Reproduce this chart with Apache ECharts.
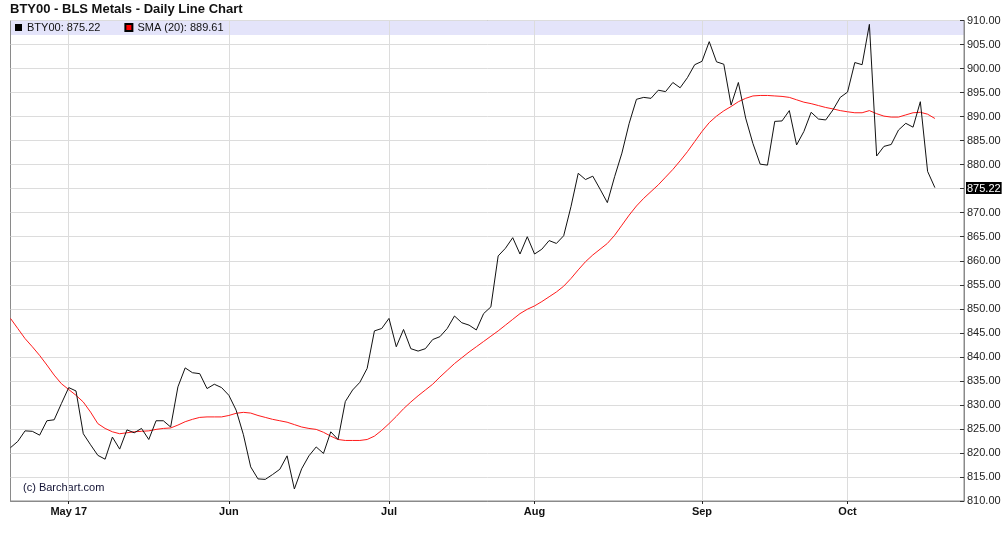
<!DOCTYPE html>
<html>
<head>
<meta charset="utf-8">
<script src="https://cdn.jsdelivr.net/npm/echarts@6/dist/echarts.min.js"></script>
<style>
html,body{margin:0;padding:0;background:#fff;}
#chart{width:1006px;height:542px;}
</style>
</head>
<body>
<div id="chart"></div>
<script>
// Trading dates (last 4 are empty room at the right edge of the axis)
const dates = [
"2017-04-19","2017-04-20","2017-04-21","2017-04-24","2017-04-25","2017-04-26","2017-04-27","2017-04-28",
"2017-05-01","2017-05-02","2017-05-03","2017-05-04","2017-05-05","2017-05-08","2017-05-09","2017-05-10","2017-05-11","2017-05-12",
"2017-05-15","2017-05-16","2017-05-17","2017-05-18","2017-05-19","2017-05-22","2017-05-23","2017-05-24","2017-05-25","2017-05-26","2017-05-30","2017-05-31",
"2017-06-01","2017-06-02","2017-06-05","2017-06-06","2017-06-07","2017-06-08","2017-06-09","2017-06-12","2017-06-13","2017-06-14","2017-06-15","2017-06-16",
"2017-06-19","2017-06-20","2017-06-21","2017-06-22","2017-06-23","2017-06-26","2017-06-27","2017-06-28","2017-06-29","2017-06-30",
"2017-07-03","2017-07-05","2017-07-06","2017-07-07","2017-07-10","2017-07-11","2017-07-12","2017-07-13","2017-07-14",
"2017-07-17","2017-07-18","2017-07-19","2017-07-20","2017-07-21","2017-07-24","2017-07-25","2017-07-26","2017-07-27","2017-07-28","2017-07-31",
"2017-08-01","2017-08-02","2017-08-03","2017-08-04","2017-08-07","2017-08-08","2017-08-09","2017-08-10","2017-08-11",
"2017-08-14","2017-08-15","2017-08-16","2017-08-17","2017-08-18","2017-08-21","2017-08-22","2017-08-23","2017-08-24","2017-08-25",
"2017-08-28","2017-08-29","2017-08-30","2017-08-31",
"2017-09-01","2017-09-05","2017-09-06","2017-09-07","2017-09-08","2017-09-11","2017-09-12","2017-09-13","2017-09-14","2017-09-15",
"2017-09-18","2017-09-19","2017-09-20","2017-09-21","2017-09-22","2017-09-25","2017-09-26","2017-09-27","2017-09-28","2017-09-29",
"2017-10-02","2017-10-03","2017-10-04","2017-10-05","2017-10-06","2017-10-09","2017-10-10","2017-10-11","2017-10-12","2017-10-13",
"2017-10-16","2017-10-17","2017-10-18",
"2017-10-19","2017-10-20","2017-10-23","2017-10-24"
];

const monthTickLabels = {
  "2017-05-01": "May 17",
  "2017-06-01": "Jun",
  "2017-07-03": "Jul",
  "2017-08-01": "Aug",
  "2017-09-01": "Sep",
  "2017-10-02": "Oct"
};

const btyValues = [
821.1,822.4,824.6,824.5,823.7,826.7,826.9,830.3,833.6,832.9,
824.0,821.7,819.5,818.7,823.3,820.8,824.8,824.2,825.1,822.8,
826.7,826.7,825.4,833.75,837.7,836.7,836.5,833.4,834.3,833.6,
832.0,828.9,823.8,817.1,814.6,814.5,815.5,816.6,819.4,812.5,
816.7,819.4,821.25,819.9,824.4,822.8,830.7,833.1,834.7,837.6,
845.4,845.9,848.0,842.1,845.7,841.7,841.2,841.7,843.6,844.2,
845.9,848.5,847.1,846.6,845.6,849.0,850.4,861.0,862.6,864.8,
861.4,865.0,861.4,862.4,864.2,863.6,865.2,871.25,878.2,876.9,
877.6,874.9,872.1,877.5,882.4,888.6,893.6,894.0,893.8,895.5,
895.2,897.1,896.0,898.1,900.8,901.5,905.6,901.4,900.9,892.4,
897.1,889.7,884.4,880.1,879.9,889.0,889.1,891.25,884.1,886.9,
890.9,889.5,889.3,891.4,894.0,895.1,901.25,900.8,909.2,881.8,
883.8,884.2,887.2,888.6,887.8,893.1,878.6,875.22
];

const smaValues = [
848.0,845.9,843.8,842.1,840.3,838.3,836.2,834.4,833.2,832.0,
830.6,828.5,826.1,825.1,824.4,824.0,824.2,824.4,824.5,824.6,
824.9,825.1,825.2,825.8,826.5,827.0,827.4,827.5,827.5,827.5,
827.8,828.25,828.45,828.3,827.8,827.4,827.0,826.7,826.4,825.9,
825.4,825.1,824.9,824.3,823.5,822.8,822.6,822.6,822.6,822.8,
823.5,824.7,826.1,827.6,829.2,830.6,831.9,833.1,834.3,835.8,
837.2,838.6,839.8,841.0,842.1,843.2,844.3,845.4,846.6,847.8,
849.0,849.9,850.6,851.5,852.5,853.5,854.7,856.3,858.1,859.8,
861.2,862.4,863.6,865.3,867.4,869.5,871.4,873.0,874.4,875.8,
877.4,879.0,880.8,882.7,884.8,886.9,888.75,890.1,891.2,892.1,
893.1,893.8,894.3,894.4,894.4,894.3,894.2,894.0,893.5,893.0,
892.7,892.3,891.9,891.6,891.25,891.0,890.8,890.8,891.25,890.6,
890.1,889.9,889.9,890.35,890.8,890.9,890.5,889.61
];

const lastBty = btyValues[btyValues.length - 1];
const lastSma = smaValues[smaValues.length - 1];
const FONT = '"Liberation Sans", Arial, sans-serif';

const isMonthTick = (idx, val) => monthTickLabels[val] !== undefined;

const chart = echarts.init(document.getElementById('chart'), null, {renderer: 'canvas'});
chart.setOption({
  animation: false,
  backgroundColor: '#ffffff',
  title: {
    text: 'BTY00 - BLS Metals - Daily Line Chart',
    left: 8, top: 1,
    padding: [2, 2],
    textStyle: {fontFamily: FONT, fontSize: 13, fontWeight: 'bold', color: '#111'}
  },
  legend: {
    left: 13, top: 21,
    padding: [1, 2],
    itemWidth: 7, itemHeight: 7, itemGap: 24,
    icon: 'rect',
    textStyle: {fontFamily: FONT, fontSize: 11, color: '#111'},
    formatter: name => name === 'BTY00' ? 'BTY00: ' + lastBty.toFixed(2) : 'SMA (20): ' + lastSma.toFixed(2),
    data: ['BTY00', 'SMA (20)']
  },
  graphic: [
    {id: 'band', type: 'rect', z: -1, shape: {x: 11, y: 21, width: 953, height: 14}, style: {fill: '#e4e4fa'}},
    {id: 'copy', type: 'text', left: 23, top: 482, style: {text: '(c) Barchart.com', font: '11px ' + FONT, fill: '#111133'}}
  ],
  grid: {
    left: 10.5, right: 42, top: 20.5, bottom: 41,
    show: true, borderColor: '#8a8a8a', borderWidth: 1
  },
  xAxis: {
    type: 'category',
    data: dates,
    boundaryGap: false,
    axisLine: {lineStyle: {color: '#8a8a8a'}},
    axisTick: {show: true, interval: isMonthTick, length: 3, lineStyle: {color: '#222'}},
    axisLabel: {
      interval: isMonthTick,
      formatter: v => monthTickLabels[v] || '',
      fontFamily: FONT, fontSize: 11, fontWeight: 'bold', color: '#111', margin: 5
    },
    splitLine: {show: true, interval: isMonthTick, lineStyle: {color: '#dcdcdc', width: 1}}
  },
  yAxis: {
    type: 'value',
    position: 'right',
    min: 810, max: 910, interval: 5,
    axisLine: {show: true, lineStyle: {color: '#8a8a8a'}},
    axisTick: {show: true, inside: true, length: 4, lineStyle: {color: '#333'}},
    axisLabel: {
      formatter: v => v.toFixed(2),
      fontFamily: FONT, fontSize: 11, color: '#222', margin: 3
    },
    splitLine: {show: true, lineStyle: {color: '#dcdcdc', width: 1}}
  },
  series: [
    {
      name: 'BTY00',
      type: 'line',
      data: btyValues,
      showSymbol: false,
      symbol: 'none',
      itemStyle: {color: '#000000'},
      lineStyle: {color: '#111111', width: 1},
      z: 3
    },
    {
      name: 'SMA (20)',
      type: 'line',
      data: smaValues,
      showSymbol: false,
      symbol: 'none',
      itemStyle: {color: '#ff0000', borderColor: '#000', borderWidth: 1},
      lineStyle: {color: '#ff1a1a', width: 1},
      z: 2
    }
  ]
});

// Last-value tag on the price axis, placed through the y axis scale
const tagY = chart.convertToPixel({yAxisIndex: 0}, lastBty);
chart.setOption({
  graphic: [
    {id: 'lastTag', type: 'text', z: 100, zlevel: 1, left: 966, top: Math.round(tagY) - 6,
     style: {text: lastBty.toFixed(2), font: '11px ' + FONT, fill: '#ffffff',
             backgroundColor: '#000000', padding: [1, 1, 0, 1]}}
  ]
});
</script>
</body>
</html>
